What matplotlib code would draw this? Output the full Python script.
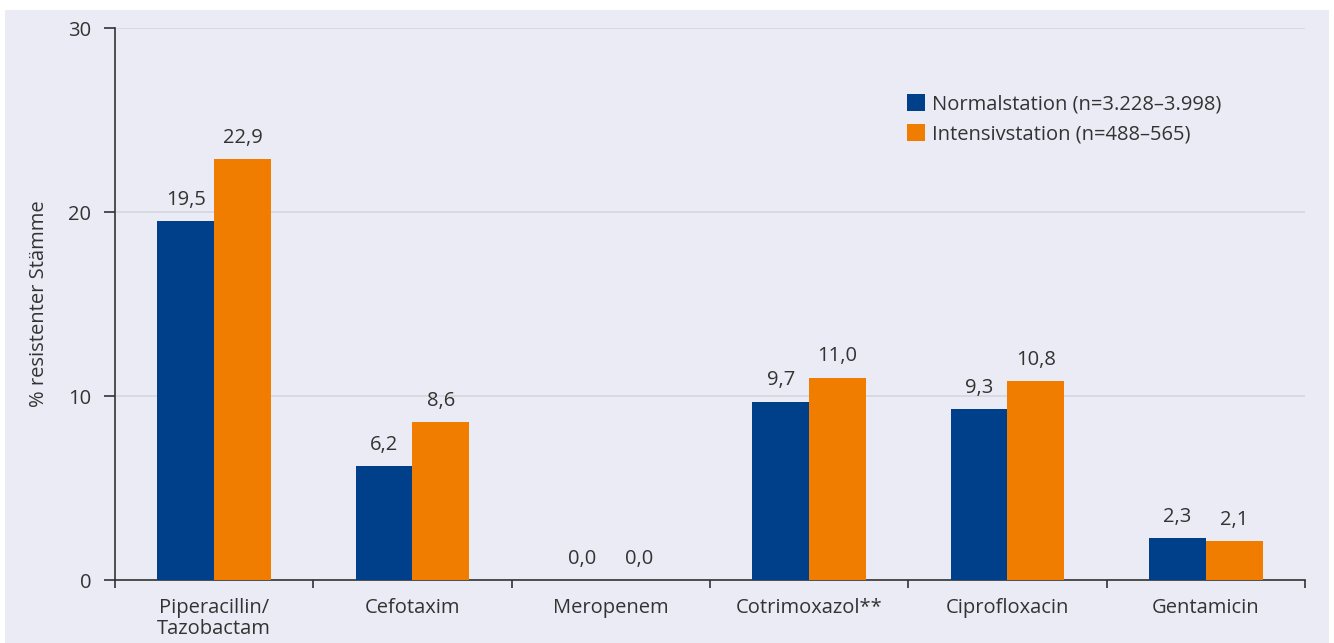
import numpy as np
import matplotlib.pyplot as plt
from matplotlib.patches import Rectangle

# Daten
categories = ["Piperacillin/\nTazobactam", "Cefotaxim", "Meropenem",
              "Cotrimoxazol**", "Ciprofloxacin", "Gentamicin"]
normal_vals = [19.5, 6.2, 0.0, 9.7, 9.3, 2.3]
intensiv_vals = [22.9, 8.6, 0.0, 11.0, 10.8, 2.1]
series_names = ["Normalstation (n=3.228–3.998)", "Intensivstation (n=488–565)"]
y_ticks = [0, 10, 20, 30]

BLUE = "#00408a"
ORANGE = "#f07c00"
PANEL = "#ebebf5"
TXT = "#333333"
FS = 14.5

plt.rcParams['font.family'] = ['Open Sans', 'DejaVu Sans']

fig = plt.figure(figsize=(13.34, 6.43), dpi=100)
# lavender panel behind the chart
fig.patches.append(Rectangle((5 / 1334, 0), 1324 / 1334, 633 / 643,
                             transform=fig.transFigure, facecolor=PANEL,
                             edgecolor="none", zorder=-10))

ax = fig.add_axes([115 / 1334, 63 / 643, 1190 / 1334, 552 / 643])
ax.set_facecolor("none")

x = np.arange(len(categories))
w = 0.287
b1 = ax.bar(x - w / 2, normal_vals, w, color=BLUE, label=series_names[0], zorder=3)
b2 = ax.bar(x + w / 2, intensiv_vals, w, color=ORANGE, label=series_names[1], zorder=3)

for bars, vals in ((b1, normal_vals), (b2, intensiv_vals)):
    for rect, v in zip(bars, vals):
        ax.annotate(f"{v:.1f}".replace(".", ","),
                    (rect.get_x() + rect.get_width() / 2, rect.get_height()),
                    xytext=(0, 8), textcoords="offset points",
                    ha="center", va="bottom", fontsize=FS, color=TXT)

ax.set_xlim(-0.5, len(categories) - 0.5)
ax.set_ylim(0, 30)
ax.set_yticks(y_ticks)
ax.yaxis.grid(True, color="#d6d6de", linewidth=1.2, zorder=0)
ax.set_axisbelow(True)

ax.set_xticks(x)
ax.set_xticklabels(categories, fontsize=FS, color=TXT, linespacing=1.05)
ax.set_xticks(np.arange(-0.5, len(categories), 1.0), minor=True)
ax.tick_params(axis="x", which="major", length=0, pad=13)
ax.tick_params(axis="x", which="minor", length=6, width=1.2, color=TXT)
ax.tick_params(axis="y", length=8, width=1.2, color=TXT, labelsize=FS,
               labelcolor=TXT, pad=9)

for s in ("top", "right"):
    ax.spines[s].set_visible(False)
for s in ("left", "bottom"):
    ax.spines[s].set_color(TXT)
    ax.spines[s].set_linewidth(1.2)

ax.set_ylabel("% resistenter Stämme", fontsize=FS, color=TXT, labelpad=14)

ax.legend(loc="upper left", bbox_to_anchor=(0.657, 0.899), frameon=False,
          fontsize=FS, handlelength=0.9, handleheight=0.9, handletextpad=0.35,
          labelspacing=0.5, borderpad=0, labelcolor=TXT)

fig.savefig("out.png", dpi=100)
